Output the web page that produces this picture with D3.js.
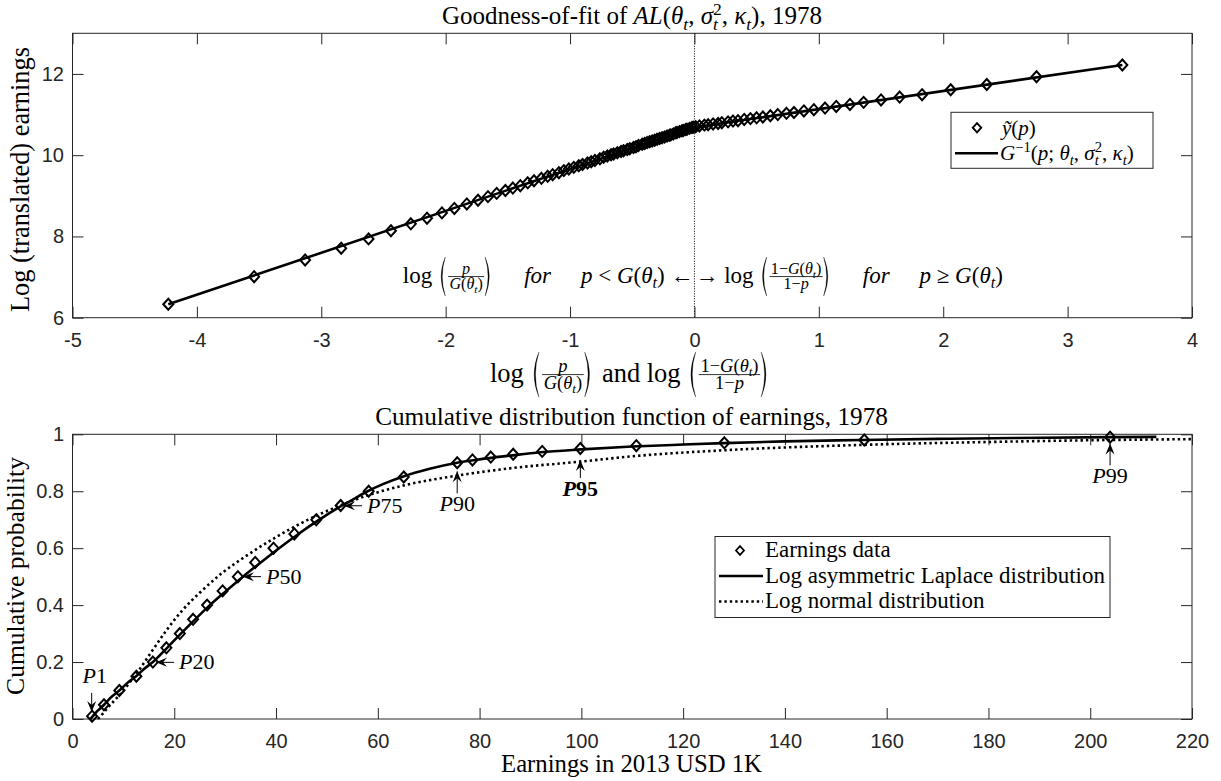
<!DOCTYPE html>
<html>
<head>
<meta charset="utf-8">
<script src="https://cdn.jsdelivr.net/npm/d3@7"></script>
<style>
body { margin: 0; background: #fff; }
svg { display: block; }
text { white-space: pre; }
</style>
</head>
<body>
<svg id="chart" width="1221" height="781"></svg>
<script>
// top panel: quantile plot, x = log(p/G) on the left of 0 and log((1-G)/(1-p)) on the right
var topX = [-4.23,-3.54,-3.13,-2.84,-2.62,-2.44,-2.28,-2.15,-2.03,-1.93,-1.83,-1.74,-1.66,-1.59,-1.52,-1.46,-1.40,-1.34,-1.29,-1.23,
  -1.18,-1.14,-1.09,-1.05,-1.01,-0.97,-0.93,-0.90,-0.86,-0.83,-0.80,-0.76,-0.73,-0.70,-0.67,-0.65,-0.62,-0.59,-0.57,-0.54,
  -0.52,-0.49,-0.47,-0.45,-0.42,-0.40,-0.38,-0.36,-0.34,-0.32,-0.30,-0.28,-0.26,-0.24,-0.22,-0.20,-0.19,-0.17,-0.15,-0.14,
  -0.12,-0.10,-0.09,-0.07,-0.06,-0.04,-0.02,-0.01,
  0.01,0.04,0.08,0.11,0.15,0.19,0.22,0.27,0.31,0.35,0.40,0.45,0.50,0.55,0.61,0.67,0.74,0.80,0.88,0.96,1.05,1.14,1.25,1.36,
  1.50,1.65,1.83,2.06,2.35,2.75,3.44];
var topY = [6.33,7.01,7.42,7.71,7.94,8.14,8.31,8.45,8.58,8.69,8.80,8.89,8.98,9.06,9.13,9.19,9.25,9.32,9.37,9.43,
  9.48,9.52,9.57,9.62,9.66,9.70,9.74,9.77,9.81,9.84,9.87,9.91,9.95,9.98,10.01,10.03,10.06,10.09,10.11,10.14,
  10.16,10.19,10.21,10.24,10.27,10.29,10.31,10.33,10.35,10.37,10.39,10.41,10.43,10.45,10.47,10.49,10.50,10.52,10.55,10.56,
  10.58,10.60,10.61,10.63,10.64,10.66,10.68,10.69,
  10.70,10.72,10.74,10.75,10.77,10.78,10.80,10.82,10.84,10.85,10.88,10.90,10.92,10.94,10.97,11.00,11.03,11.05,11.09,11.12,
  11.16,11.20,11.25,11.30,11.36,11.43,11.49,11.61,11.74,11.93,12.22];
var fitX = [-4.23, 0, 3.44];
var fitY = [6.33, 10.69, 12.22];
var topXTicks = [-5,-4,-3,-2,-1,0,1,2,3,4];
var topYTicks = [6,8,10,12];

// bottom panel: cdf
var earnX = [3.85,6.18,9.2,12.55,15.8,18.45,21.1,23.7,26.45,29.5,32.5,35.9,39.5,43.6,47.9,52.7,58.2,65.1,75.6,78.6,
  82.2,86.6,92.3,99.8,110.8,128.1,155.6,203.9];
var earnP = [0.01,0.05,0.10,0.15,0.20,0.25,0.30,0.35,0.40,0.45,0.50,0.55,0.60,0.65,0.70,0.75,0.80,0.85,0.90,0.91,
  0.92,0.93,0.94,0.95,0.96,0.97,0.98,0.99];
var aldX = [3.5,4.0,5.0,6.2,7.5,9.2,11,12.5,14,15.8,18.6,21.3,24.1,27.0,30.2,33.5,37.0,40.6,44.4,48.5,
  52,55,58,61,65,70,75.6,80,86,92,100,110,120,128,140,155,170,185,204,213];
var aldP = [0.0,0.01,0.03,0.05,0.075,0.10,0.13,0.15,0.175,0.20,0.25,0.30,0.35,0.40,0.45,0.50,0.55,0.60,0.65,0.70,
  0.74,0.77,0.80,0.825,0.852,0.878,0.90,0.912,0.925,0.937,0.947,0.957,0.964,0.969,0.975,0.98,0.984,0.987,0.99,0.991];
var lnX = [5.0,6.0,7.1,8.5,9.8,11.3,13,15.3,18.4,21.5,25.4,29.2,33.9,40.1,46.3,52.6,58.8,65,75.6,86.7,
  99.8,110.8,128.1,155.6,180,203.9,220];
var lnP = [0.0,0.02,0.043,0.07,0.095,0.13,0.17,0.23,0.31,0.38,0.45,0.51,0.57,0.64,0.70,0.75,0.79,0.82,0.855,0.882,
  0.904,0.924,0.944,0.963,0.973,0.98,0.983];
var botXTicks = [0,20,40,60,80,100,120,140,160,180,200,220];
var botYTicks = [0,0.2,0.4,0.6,0.8,1];

// percentile call-outs: label, arrow tip (data coords), direction
var pctLabels = ["1","20","50","75","90","95","99"];
var pctX = [3.77,16.4,33.5,53.35,75.6,99.8,203.9];
var pctP = [0.025,0.199,0.50,0.749,0.87,0.91,0.968];
var pctDir = ["down","left","left","left","up","up","up"];

var SERIF = '"Liberation Serif","DejaVu Serif",serif';
var SANS = '"Liberation Sans",Arial,sans-serif';
var INK = "#262626";

var svg = d3.select("#chart");
svg.append("rect").attr("width", 1221).attr("height", 781).attr("fill", "#fff");

svg.append("defs").append("marker")
  .attr("id", "head")
  .attr("viewBox", "-12 -6 13 12")
  .attr("markerWidth", 13).attr("markerHeight", 12)
  .attr("refX", 0).attr("refY", 0)
  .attr("orient", "auto")
  .attr("markerUnits", "userSpaceOnUse")
  .append("path")
  .attr("d", "M0,0L-11,-4.5L-7,0L-11,4.5Z")
  .attr("fill", "#000");

var xT = d3.scaleLinear().domain([-5, 4]).range([72.5, 1192]);
var yT = d3.scaleLinear().domain([6, 13]).range([317.7, 33.3]);
var xB = d3.scaleLinear().domain([0, 220]).range([72.5, 1192]);
var yB = d3.scaleLinear().domain([0, 1]).range([719, 434.3]);

// ---------- small math-text layout ----------
function word(g, x, y, s, size, it) {
  var t = g.append("text").attr("x", x).attr("y", y)
    .style("font-family", SERIF).style("font-size", size + "px")
    .style("font-style", it ? "italic" : "normal")
    .attr("fill", "#000").text(s);
  return t.node().getComputedTextLength();
}

function lay(g, parts, size, x, y) {
  parts.forEach(function(p) {
    if (typeof p === "number") { x += p * size; }
    else if (typeof p === "string") { x += word(g, x, y, p, size, false); }
    else if (p.i) { x += word(g, x, y, p.i, size, true); }
    else if (p.sub) { x = lay(g, p.sub, size * 0.7, x, y + size * 0.22); }
    else if (p.sup) { x = lay(g, p.sup, size * 0.7, x, y - size * 0.36); }
    else if (p.ss) {
      var a = lay(g, p.ss[0], size * 0.7, x, y - size * 0.36);
      var b = lay(g, p.ss[1], size * 0.7, x, y + size * 0.25);
      x = Math.max(a, b);
    }
    else if (p.frac) {
      var sz = size * 0.7, axis = y - size * 0.28;
      var gn = g.append("g"), gd = g.append("g");
      var wn = lay(gn, p.frac[0], sz, 0, 0);
      var wd = lay(gd, p.frac[1], sz, 0, 0);
      var W = Math.max(wn, wd) + size * 0.2;
      gn.attr("transform", "translate(" + (x + (W - wn) / 2) + "," + (axis - size * 0.1) + ")");
      gd.attr("transform", "translate(" + (x + (W - wd) / 2) + "," + (axis + sz * 0.72 + size * 0.04) + ")");
      g.append("line").attr("x1", x + 1).attr("x2", x + W - 1)
        .attr("y1", axis).attr("y2", axis).attr("stroke", "#000").attr("stroke-width", 0.8);
      x += W;
    }
    else if (p.paren) {
      var ax = y - size * 0.28, top = ax - size * 0.85, bot = ax + size * 0.85, w = size * 0.32;
      var d;
      if (p.paren === "(") {
        d = "M" + (x + w) + "," + top + "Q" + (x - size * 0.04) + "," + ax + " " + (x + w) + "," + bot +
            "Q" + (x + size * 0.06) + "," + ax + " " + (x + w) + "," + top + "Z";
      } else {
        d = "M" + x + "," + top + "Q" + (x + w + size * 0.04) + "," + ax + " " + x + "," + bot +
            "Q" + (x + w - size * 0.06) + "," + ax + " " + x + "," + top + "Z";
      }
      g.append("path").attr("d", d).attr("fill", "#000").attr("stroke", "#000").attr("stroke-width", 0.3);
      x += w + size * 0.08;
    }
  });
  return x;
}

// lay out once, then again at the size that gives the wanted width
function fitLay(parent, parts, target, base) {
  var tmp = parent.append("g");
  var w = lay(tmp, parts, base, 0, 0);
  tmp.remove();
  var size = base * target / w;
  var g = parent.append("g");
  lay(g, parts, size, 0, 0);
  return g;
}

function fitText(g, str, target, base) {
  var t = g.append("text").style("font-family", SERIF).style("font-size", base + "px")
    .attr("fill", "#000").text(str);
  var w = t.node().getComputedTextLength();
  t.style("font-size", (base * target / w) + "px");
  return t;
}

var thT = [{i: "θ"}, {sub: [{i: "t"}]}];
var fracLeft = {frac: [[{i: "p"}], [{i: "G"}, "("].concat(thT, [")"])]};
var fracRight = {frac: [["1−", {i: "G"}, "("].concat(thT, [")"]), ["1−", {i: "p"}]]};

// ---------- axes ----------
function box(g, x, y, xt, yt, yf) {
  var xr = x.range(), yr = y.range();
  var fmt = function(d) { return String(d); };
  var none = function() { return ""; };
  var parts = [
    g.append("g").attr("transform", "translate(0," + yr[0] + ")")
      .call(d3.axisBottom(x).tickValues(xt).tickFormat(fmt).tickSizeInner(-11).tickSizeOuter(0).tickPadding(15)),
    g.append("g").attr("transform", "translate(0," + yr[1] + ")")
      .call(d3.axisTop(x).tickValues(xt).tickFormat(none).tickSizeInner(-11).tickSizeOuter(0)),
    g.append("g").attr("transform", "translate(" + xr[0] + ",0)")
      .call(d3.axisLeft(y).tickValues(yt).tickFormat(yf || fmt).tickSizeInner(-11).tickSizeOuter(0).tickPadding(8.5)),
    g.append("g").attr("transform", "translate(" + xr[1] + ",0)")
      .call(d3.axisRight(y).tickValues(yt).tickFormat(none).tickSizeInner(-11).tickSizeOuter(0))
  ];
  parts.forEach(function(a) {
    a.attr("font-family", SANS).attr("font-size", 20).style("color", INK);
    a.select(".domain").remove();
  });
  g.append("rect").attr("x", xr[0]).attr("y", yr[1])
    .attr("width", xr[1] - xr[0]).attr("height", yr[0] - yr[1])
    .attr("fill", "none").attr("stroke", INK).attr("stroke-width", 1);
}

var diamond = "M0,-5.5L5,0L0,5.5L-5,0Z";

// ================= top panel =================
var gt = svg.append("g");
box(gt, xT, yT, topXTicks, topYTicks);

gt.append("line").attr("x1", xT(0)).attr("x2", xT(0)).attr("y1", yT(13)).attr("y2", yT(6))
  .attr("stroke", "#000").attr("stroke-width", 1).attr("stroke-dasharray", "1,1.5");

gt.append("path")
  .datum(d3.range(fitX.length))
  .attr("d", d3.line().x(function(i) { return xT(fitX[i]); }).y(function(i) { return yT(fitY[i]); }))
  .attr("fill", "none").attr("stroke", "#000").attr("stroke-width", 2.6);

gt.append("g").selectAll("path")
  .data(d3.range(topX.length))
  .enter().append("path")
  .attr("d", diamond)
  .attr("transform", function(i) { return "translate(" + xT(topX[i]) + "," + yT(topY[i]) + ")"; })
  .attr("fill", "none").attr("stroke", "#000").attr("stroke-width", 2);

// annotation inside the top panel
var annL = gt.append("g");
var wl = lay(annL, ["log ", {paren: "("}, fracLeft, {paren: ")"}, 1.3, {i: "for"}, 1.3, {i: "p"}, " < ", {i: "G"}, "("]
  .concat(thT, [") ←"]), 23, 0, 0);
annL.attr("transform", "translate(" + (xT(0) - 1 - wl) + ",283)");
var annR = gt.append("g");
lay(annR, ["→ log ", {paren: "("}, fracRight, {paren: ")"}, 1.3, {i: "for"}, 1.3, {i: "p"}, " ≥ ", {i: "G"}, "("]
  .concat(thT, [")"]), 23, 0, 0);
annR.attr("transform", "translate(" + (xT(0) + 1) + ",283)");

// top legend
var lt = gt.append("g");
lt.append("rect").attr("x", 951).attr("y", 112.3).attr("width", 202).attr("height", 56)
  .attr("fill", "#fff").attr("stroke", INK).attr("stroke-width", 1);
lt.append("path").attr("d", diamond).attr("transform", "translate(977,127.7) scale(0.85)")
  .attr("fill", "none").attr("stroke", "#000").attr("stroke-width", 2.2);
lt.append("line").attr("x1", 955).attr("x2", 998).attr("y1", 153.3).attr("y2", 153.3)
  .attr("stroke", "#000").attr("stroke-width", 2.6);
var lg2 = lt.append("g").attr("transform", "translate(1000,160)");
lay(lg2, [{i: "G"}, {sup: ["−1"]}, "(", {i: "p"}, "; "].concat(thT, [", ", {i: "σ"}, {ss: [["2"], [{i: "t"}]]}, ", ", {i: "κ"}, {sub: [{i: "t"}]}, ")"]), 21, 0, 0);
var lg1 = lt.append("g").attr("transform", "translate(1002,134.5)");
lay(lg1, [{i: "ỹ"}, "(", {i: "p"}, ")"], 21, 0, 0);

// title and axis labels
var t1 = fitLay(svg, ["Goodness-of-fit of ", {i: "AL"}, "("].concat(thT, [", ", {i: "σ"}, {ss: [["2"], [{i: "t"}]]}, ", ", {i: "κ"}, {sub: [{i: "t"}]}, "), 1978"]), 380, 20);
t1.attr("transform", "translate(442,24)");

var xl = fitLay(svg, ["log ", {paren: "("}, fracLeft, {paren: ")"}, " and log ", {paren: "("}, fracRight, {paren: ")"}], 282, 20);
xl.attr("transform", "translate(490,382)");

fitText(svg.append("g").attr("transform", "translate(29,179.5) rotate(-90)"), "Log (translated) earnings", 265, 20)
  .attr("text-anchor", "middle");

// ================= bottom panel =================
var gb = svg.append("g");
box(gb, xB, yB, botXTicks, botYTicks);

var cdfLine = d3.line().curve(d3.curveMonotoneX);
gb.append("path")
  .attr("d", cdfLine(lnX.map(function(v, i) { return [xB(v), yB(lnP[i])]; })))
  .attr("fill", "none").attr("stroke", "#000").attr("stroke-width", 2.6).attr("stroke-dasharray", "2.4,3");
gb.append("path")
  .attr("d", cdfLine(aldX.map(function(v, i) { return [xB(v), yB(aldP[i])]; })))
  .attr("fill", "none").attr("stroke", "#000").attr("stroke-width", 2.6);

gb.append("g").selectAll("path")
  .data(d3.range(earnX.length))
  .enter().append("path")
  .attr("d", diamond)
  .attr("transform", function(i) { return "translate(" + xB(earnX[i]) + "," + yB(earnP[i]) + ")"; })
  .attr("fill", "none").attr("stroke", "#000").attr("stroke-width", 2);

// percentile arrows
pctLabels.forEach(function(lab, i) {
  var tx = xB(pctX[i]), ty = yB(pctP[i]);
  var dir = pctDir[i], sx = tx, sy = ty, len = dir === "left" ? 18 : (lab === "95" ? 18 : (lab === "1" ? 19 : 22));
  if (dir === "down") sy = ty - len;
  if (dir === "up") sy = ty + len;
  if (dir === "left") sx = tx + len;
  gb.append("line").attr("x1", sx).attr("y1", sy).attr("x2", tx).attr("y2", ty)
    .attr("stroke", "#000").attr("stroke-width", 1).attr("marker-end", "url(#head)");
  var g = gb.append("g");
  var w = lay(g, [{i: "P"}, lab], 22, 0, 0);
  if (lab === "95") g.style("font-weight", "bold");
  if (dir === "down") g.attr("transform", "translate(" + (sx + 3 - w / 2) + "," + (sy - 10) + ")");
  if (dir === "up") g.attr("transform", "translate(" + (sx - w / 2) + "," + (sy + 18) + ")");
  if (dir === "left") g.attr("transform", "translate(" + (sx + 5) + "," + (sy + 7) + ")");
});

// bottom legend
var lb = gb.append("g");
lb.append("rect").attr("x", 715).attr("y", 536.5).attr("width", 395).attr("height", 81)
  .attr("fill", "#fff").attr("stroke", INK).attr("stroke-width", 1);
lb.append("path").attr("d", diamond).attr("transform", "translate(740,550.5) scale(0.8)")
  .attr("fill", "none").attr("stroke", "#000").attr("stroke-width", 2.2);
lb.append("line").attr("x1", 719).attr("x2", 763).attr("y1", 576).attr("y2", 576)
  .attr("stroke", "#000").attr("stroke-width", 2.6);
lb.append("line").attr("x1", 719).attr("x2", 763).attr("y1", 601.5).attr("y2", 601.5)
  .attr("stroke", "#000").attr("stroke-width", 2.6).attr("stroke-dasharray", "2.4,3");
var lbt = fitText(lb.append("g").attr("transform", "translate(765,582.5)"), "Log asymmetric Laplace distribution", 340, 20);
var lsz = lbt.style("font-size");
lb.append("text").attr("x", 765).attr("y", 557).style("font-family", SERIF).style("font-size", lsz).text("Earnings data");
lb.append("text").attr("x", 765).attr("y", 608).style("font-family", SERIF).style("font-size", lsz).text("Log normal distribution");

fitText(svg.append("g").attr("transform", "translate(631.5,425)"), "Cumulative distribution function of earnings, 1978", 513, 20)
  .attr("text-anchor", "middle");
fitText(svg.append("g").attr("transform", "translate(631.5,772)"), "Earnings in 2013 USD 1K", 261, 20)
  .attr("text-anchor", "middle");
fitText(svg.append("g").attr("transform", "translate(24,576) rotate(-90)"), "Cumulative probability", 238, 20)
  .attr("text-anchor", "middle");
</script>
</body>
</html>
